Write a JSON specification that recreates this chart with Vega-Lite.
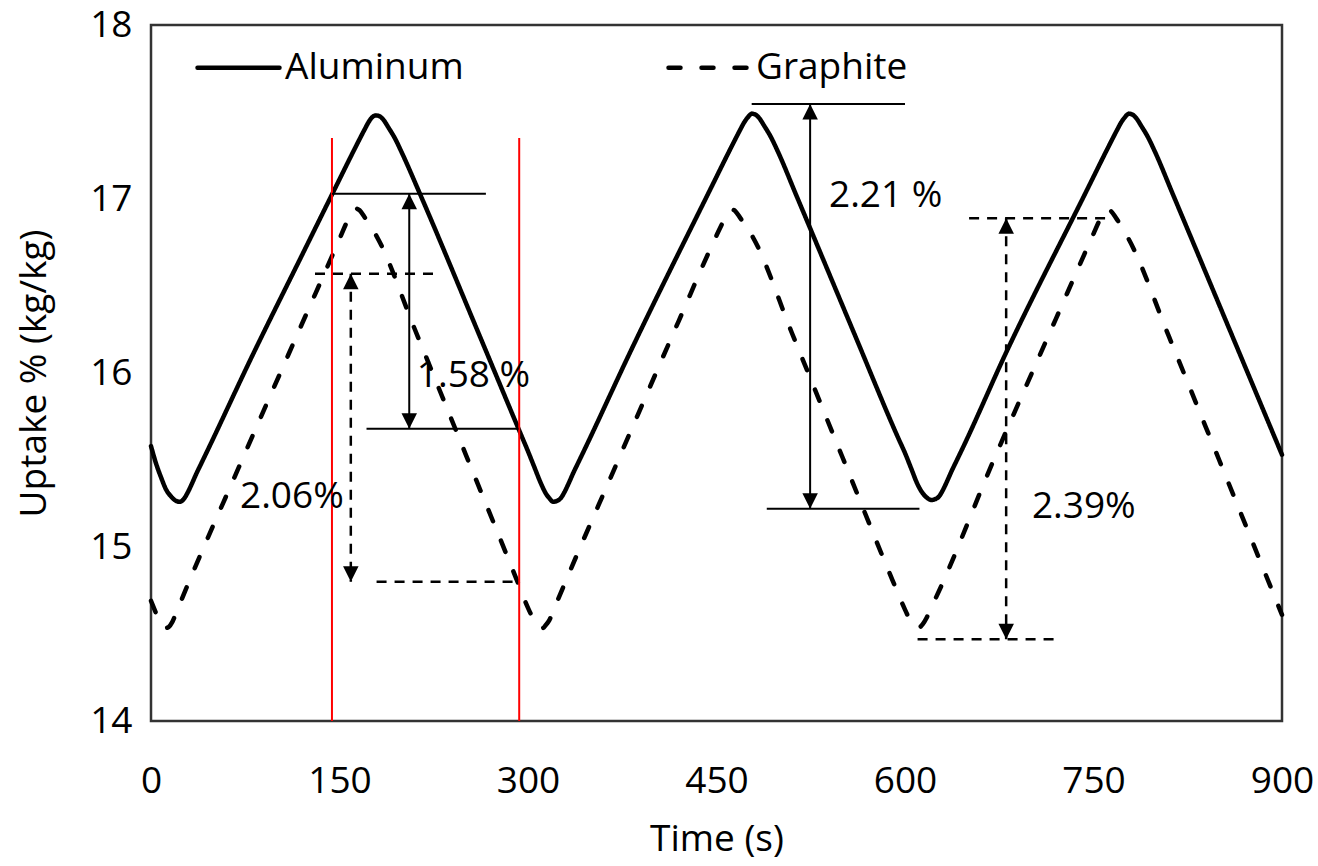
{
  "$schema": "https://vega.github.io/schema/vega-lite/v6.json",
  "width": 1131,
  "height": 696,
  "autosize": {"type": "none"},
  "padding": {"left": 151, "top": 25, "right": 36, "bottom": 145},
  "background": "white",
  "config": {
    "font": "Open Sans",
    "view": {"stroke": "#333333", "strokeWidth": 2.5},
    "axis": {"grid": false, "ticks": false, "domain": false, "labelColor": "black", "titleColor": "black", "labelFontSize": 37, "titleFontSize": 37, "titleFontWeight": "normal", "labelFont": "Open Sans", "titleFont": "Open Sans", "labelFlush": false, "labelOverlap": false}
  },
  "datasets": {
    "curves": [
      {"series": "Aluminum", "t": 0, "uptake": 15.58},
      {"series": "Aluminum", "t": 4, "uptake": 15.48},
      {"series": "Aluminum", "t": 8, "uptake": 15.4},
      {"series": "Aluminum", "t": 12, "uptake": 15.33},
      {"series": "Aluminum", "t": 16, "uptake": 15.29},
      {"series": "Aluminum", "t": 20, "uptake": 15.265},
      {"series": "Aluminum", "t": 23, "uptake": 15.26},
      {"series": "Aluminum", "t": 26, "uptake": 15.275},
      {"series": "Aluminum", "t": 29, "uptake": 15.31},
      {"series": "Aluminum", "t": 32, "uptake": 15.355},
      {"series": "Aluminum", "t": 36, "uptake": 15.42},
      {"series": "Aluminum", "t": 40, "uptake": 15.48},
      {"series": "Aluminum", "t": 45, "uptake": 15.555},
      {"series": "Aluminum", "t": 80, "uptake": 16.09},
      {"series": "Aluminum", "t": 120, "uptake": 16.675},
      {"series": "Aluminum", "t": 145, "uptake": 17.04},
      {"series": "Aluminum", "t": 165, "uptake": 17.33},
      {"series": "Aluminum", "t": 170, "uptake": 17.4},
      {"series": "Aluminum", "t": 173, "uptake": 17.44},
      {"series": "Aluminum", "t": 176, "uptake": 17.47},
      {"series": "Aluminum", "t": 179, "uptake": 17.48},
      {"series": "Aluminum", "t": 182, "uptake": 17.475},
      {"series": "Aluminum", "t": 185, "uptake": 17.455},
      {"series": "Aluminum", "t": 189, "uptake": 17.41},
      {"series": "Aluminum", "t": 194, "uptake": 17.35},
      {"series": "Aluminum", "t": 200, "uptake": 17.26},
      {"series": "Aluminum", "t": 214, "uptake": 17.03},
      {"series": "Aluminum", "t": 260, "uptake": 16.24},
      {"series": "Aluminum", "t": 293, "uptake": 15.67},
      {"series": "Aluminum", "t": 300, "uptake": 15.55},
      {"series": "Aluminum", "t": 305, "uptake": 15.46},
      {"series": "Aluminum", "t": 310, "uptake": 15.37},
      {"series": "Aluminum", "t": 314, "uptake": 15.31},
      {"series": "Aluminum", "t": 317, "uptake": 15.28},
      {"series": "Aluminum", "t": 320, "uptake": 15.26},
      {"series": "Aluminum", "t": 323, "uptake": 15.265},
      {"series": "Aluminum", "t": 326, "uptake": 15.28},
      {"series": "Aluminum", "t": 329, "uptake": 15.315},
      {"series": "Aluminum", "t": 332, "uptake": 15.36},
      {"series": "Aluminum", "t": 336, "uptake": 15.425},
      {"series": "Aluminum", "t": 340, "uptake": 15.485},
      {"series": "Aluminum", "t": 345, "uptake": 15.56},
      {"series": "Aluminum", "t": 380, "uptake": 16.1},
      {"series": "Aluminum", "t": 444, "uptake": 17.04},
      {"series": "Aluminum", "t": 464, "uptake": 17.33},
      {"series": "Aluminum", "t": 469, "uptake": 17.4},
      {"series": "Aluminum", "t": 472, "uptake": 17.44},
      {"series": "Aluminum", "t": 475, "uptake": 17.47},
      {"series": "Aluminum", "t": 478, "uptake": 17.49},
      {"series": "Aluminum", "t": 481, "uptake": 17.485},
      {"series": "Aluminum", "t": 484, "uptake": 17.465},
      {"series": "Aluminum", "t": 488, "uptake": 17.42},
      {"series": "Aluminum", "t": 493, "uptake": 17.36},
      {"series": "Aluminum", "t": 499, "uptake": 17.27},
      {"series": "Aluminum", "t": 513, "uptake": 17.03},
      {"series": "Aluminum", "t": 560, "uptake": 16.22},
      {"series": "Aluminum", "t": 595, "uptake": 15.62},
      {"series": "Aluminum", "t": 600, "uptake": 15.54},
      {"series": "Aluminum", "t": 605, "uptake": 15.45},
      {"series": "Aluminum", "t": 610, "uptake": 15.36},
      {"series": "Aluminum", "t": 614, "uptake": 15.31},
      {"series": "Aluminum", "t": 618, "uptake": 15.28},
      {"series": "Aluminum", "t": 621, "uptake": 15.27},
      {"series": "Aluminum", "t": 624, "uptake": 15.275},
      {"series": "Aluminum", "t": 627, "uptake": 15.29},
      {"series": "Aluminum", "t": 630, "uptake": 15.325},
      {"series": "Aluminum", "t": 633, "uptake": 15.37},
      {"series": "Aluminum", "t": 637, "uptake": 15.435},
      {"series": "Aluminum", "t": 641, "uptake": 15.495},
      {"series": "Aluminum", "t": 646, "uptake": 15.57},
      {"series": "Aluminum", "t": 680, "uptake": 16.11},
      {"series": "Aluminum", "t": 744, "uptake": 17.04},
      {"series": "Aluminum", "t": 764, "uptake": 17.33},
      {"series": "Aluminum", "t": 769, "uptake": 17.4},
      {"series": "Aluminum", "t": 772, "uptake": 17.44},
      {"series": "Aluminum", "t": 775, "uptake": 17.47},
      {"series": "Aluminum", "t": 778, "uptake": 17.49},
      {"series": "Aluminum", "t": 781, "uptake": 17.485},
      {"series": "Aluminum", "t": 784, "uptake": 17.465},
      {"series": "Aluminum", "t": 788, "uptake": 17.42},
      {"series": "Aluminum", "t": 793, "uptake": 17.36},
      {"series": "Aluminum", "t": 799, "uptake": 17.27},
      {"series": "Aluminum", "t": 813, "uptake": 17.03},
      {"series": "Aluminum", "t": 860, "uptake": 16.22},
      {"series": "Aluminum", "t": 900, "uptake": 15.53},
      {"series": "Graphite", "t": 0, "uptake": 14.69},
      {"series": "Graphite", "t": 4, "uptake": 14.62},
      {"series": "Graphite", "t": 7, "uptake": 14.57},
      {"series": "Graphite", "t": 10, "uptake": 14.54},
      {"series": "Graphite", "t": 12, "uptake": 14.535},
      {"series": "Graphite", "t": 14, "uptake": 14.54},
      {"series": "Graphite", "t": 17, "uptake": 14.57},
      {"series": "Graphite", "t": 20, "uptake": 14.62},
      {"series": "Graphite", "t": 24.5, "uptake": 14.7},
      {"series": "Graphite", "t": 70, "uptake": 15.46},
      {"series": "Graphite", "t": 120, "uptake": 16.28},
      {"series": "Graphite", "t": 150, "uptake": 16.77},
      {"series": "Graphite", "t": 156, "uptake": 16.87},
      {"series": "Graphite", "t": 160, "uptake": 16.925},
      {"series": "Graphite", "t": 163, "uptake": 16.945},
      {"series": "Graphite", "t": 166, "uptake": 16.935},
      {"series": "Graphite", "t": 170, "uptake": 16.895},
      {"series": "Graphite", "t": 180, "uptake": 16.78},
      {"series": "Graphite", "t": 210, "uptake": 16.25},
      {"series": "Graphite", "t": 250, "uptake": 15.54},
      {"series": "Graphite", "t": 290, "uptake": 14.83},
      {"series": "Graphite", "t": 300, "uptake": 14.65},
      {"series": "Graphite", "t": 304, "uptake": 14.59},
      {"series": "Graphite", "t": 307, "uptake": 14.555},
      {"series": "Graphite", "t": 310, "uptake": 14.535},
      {"series": "Graphite", "t": 312, "uptake": 14.535},
      {"series": "Graphite", "t": 314, "uptake": 14.55},
      {"series": "Graphite", "t": 317, "uptake": 14.58},
      {"series": "Graphite", "t": 320, "uptake": 14.63},
      {"series": "Graphite", "t": 324, "uptake": 14.7},
      {"series": "Graphite", "t": 370, "uptake": 15.47},
      {"series": "Graphite", "t": 420, "uptake": 16.3},
      {"series": "Graphite", "t": 450, "uptake": 16.79},
      {"series": "Graphite", "t": 456, "uptake": 16.88},
      {"series": "Graphite", "t": 459, "uptake": 16.92},
      {"series": "Graphite", "t": 462, "uptake": 16.94},
      {"series": "Graphite", "t": 465, "uptake": 16.93},
      {"series": "Graphite", "t": 469, "uptake": 16.89},
      {"series": "Graphite", "t": 479, "uptake": 16.78},
      {"series": "Graphite", "t": 510, "uptake": 16.23},
      {"series": "Graphite", "t": 550, "uptake": 15.52},
      {"series": "Graphite", "t": 590, "uptake": 14.81},
      {"series": "Graphite", "t": 600, "uptake": 14.64},
      {"series": "Graphite", "t": 604, "uptake": 14.58},
      {"series": "Graphite", "t": 607, "uptake": 14.55},
      {"series": "Graphite", "t": 610, "uptake": 14.535},
      {"series": "Graphite", "t": 612, "uptake": 14.54},
      {"series": "Graphite", "t": 614, "uptake": 14.555},
      {"series": "Graphite", "t": 617, "uptake": 14.59},
      {"series": "Graphite", "t": 620, "uptake": 14.64},
      {"series": "Graphite", "t": 624, "uptake": 14.7},
      {"series": "Graphite", "t": 670, "uptake": 15.49},
      {"series": "Graphite", "t": 720, "uptake": 16.31},
      {"series": "Graphite", "t": 750, "uptake": 16.8},
      {"series": "Graphite", "t": 755, "uptake": 16.88},
      {"series": "Graphite", "t": 758, "uptake": 16.92},
      {"series": "Graphite", "t": 761, "uptake": 16.94},
      {"series": "Graphite", "t": 764, "uptake": 16.93},
      {"series": "Graphite", "t": 768, "uptake": 16.89},
      {"series": "Graphite", "t": 778, "uptake": 16.77},
      {"series": "Graphite", "t": 810, "uptake": 16.21},
      {"series": "Graphite", "t": 850, "uptake": 15.5},
      {"series": "Graphite", "t": 900, "uptake": 14.61}
    ],
    "cycle_marks": [
      {"t": 144, "low": 14.0, "high": 17.35},
      {"t": 293, "low": 14.0, "high": 17.35}
    ],
    "levels": [
      {"t1": 144, "t2": 266.5, "y": 17.03, "style": "solid"},
      {"t1": 171.5, "t2": 292.5, "y": 15.68, "style": "solid"},
      {"t1": 478, "t2": 600, "y": 17.546, "style": "solid"},
      {"t1": 490, "t2": 611.5, "y": 15.22, "style": "solid"},
      {"t1": 130.5, "t2": 227, "y": 16.57, "style": "dashed"},
      {"t1": 179.5, "t2": 291, "y": 14.8, "style": "dashed"},
      {"t1": 651, "t2": 761, "y": 16.89, "style": "dashed"},
      {"t1": 610, "t2": 721, "y": 14.47, "style": "dashed"}
    ],
    "spans": [
      {"t": 205.5, "top": 17.03, "bottom": 15.68, "style": "solid"},
      {"t": 159, "top": 16.57, "bottom": 14.8, "style": "dashed"},
      {"t": 524.5, "top": 17.546, "bottom": 15.22, "style": "solid"},
      {"t": 680.5, "top": 16.89, "bottom": 14.47, "style": "dashed"}
    ],
    "notes": [
      {"t": 211.5, "y": 15.98, "label": "1.58 %"},
      {"t": 70.8, "y": 15.29, "label": "2.06%"},
      {"t": 539.5, "y": 17.02, "label": "2.21 %"},
      {"t": 701, "y": 15.23, "label": "2.39%"}
    ]
  },
  "layer": [
    {
      "data": {"name": "curves"},
      "mark": {"type": "line", "color": "black", "strokeWidth": 4.5, "strokeCap": "round", "strokeJoin": "round", "interpolate": "monotone"},
      "encoding": {
        "x": {"field": "t", "type": "quantitative", "title": "Time (s)", "scale": {"domain": [0, 900], "nice": false, "zero": false},
          "axis": {"values": [0, 150, 300, 450, 600, 750, 900], "format": "d", "labelPadding": 42, "titlePadding": 22}},
        "y": {"field": "uptake", "type": "quantitative", "title": "Uptake % (kg/kg)", "scale": {"domain": [14, 18], "nice": false, "zero": false},
          "axis": {"values": [14, 15, 16, 17, 18], "format": "d", "labelPadding": 19, "titlePadding": 36}},
        "strokeDash": {"field": "series", "type": "nominal",
          "scale": {"domain": ["Aluminum", "Graphite"], "range": [[1, 0], [12, 21]]},
          "legend": {"title": null, "orient": "none", "direction": "horizontal", "legendX": 44, "legendY": -1, "padding": 0,
            "symbolType": "stroke", "symbolSize": 6724, "symbolStrokeWidth": 4.5, "symbolStrokeColor": "black",
            "labelFont": "Open Sans", "labelFontSize": 37, "labelColor": "black", "labelOffset": 3, "labelLimit": 400,
            "columnPadding": 195,
            "encode": {"symbols": {"update": {"strokeCap": {"value": "round"}}}}}},
        "detail": {"field": "series"}
      }
    },
    {
      "data": {"name": "cycle_marks"},
      "mark": {"type": "rule", "color": "#ff0000", "strokeWidth": 2},
      "encoding": {
        "x": {"field": "t", "type": "quantitative", "title": "Time (s)", "scale": {"domain": [0, 900], "nice": false, "zero": false}},
        "y": {"field": "low", "type": "quantitative", "title": "Uptake % (kg/kg)", "scale": {"domain": [14, 18], "nice": false, "zero": false}},
        "y2": {"field": "high"}
      }
    },
    {
      "data": {"name": "levels"},
      "transform": [{"filter": "datum.style === 'solid'"}],
      "mark": {"type": "rule", "color": "black", "strokeWidth": 2},
      "encoding": {
        "x": {"field": "t1", "type": "quantitative", "title": "Time (s)", "scale": {"domain": [0, 900], "nice": false, "zero": false}},
        "x2": {"field": "t2"},
        "y": {"field": "y", "type": "quantitative", "title": "Uptake % (kg/kg)", "scale": {"domain": [14, 18], "nice": false, "zero": false}}
      }
    },
    {
      "data": {"name": "levels"},
      "transform": [{"filter": "datum.style === 'dashed'"}],
      "mark": {"type": "rule", "color": "black", "strokeWidth": 2.5, "strokeDash": [10, 8]},
      "encoding": {
        "x": {"field": "t1", "type": "quantitative", "title": "Time (s)", "scale": {"domain": [0, 900], "nice": false, "zero": false}},
        "x2": {"field": "t2"},
        "y": {"field": "y", "type": "quantitative", "title": "Uptake % (kg/kg)", "scale": {"domain": [14, 18], "nice": false, "zero": false}}
      }
    },
    {
      "data": {"name": "spans"},
      "transform": [{"filter": "datum.style === 'solid'"}],
      "mark": {"type": "rule", "color": "black", "strokeWidth": 2},
      "encoding": {
        "x": {"field": "t", "type": "quantitative", "title": "Time (s)", "scale": {"domain": [0, 900], "nice": false, "zero": false}},
        "y": {"field": "top", "type": "quantitative", "title": "Uptake % (kg/kg)", "scale": {"domain": [14, 18], "nice": false, "zero": false}},
        "y2": {"field": "bottom"}
      }
    },
    {
      "data": {"name": "spans"},
      "transform": [{"filter": "datum.style === 'dashed'"}],
      "mark": {"type": "rule", "color": "black", "strokeWidth": 2.5, "strokeDash": [10, 8]},
      "encoding": {
        "x": {"field": "t", "type": "quantitative", "title": "Time (s)", "scale": {"domain": [0, 900], "nice": false, "zero": false}},
        "y": {"field": "top", "type": "quantitative", "title": "Uptake % (kg/kg)", "scale": {"domain": [14, 18], "nice": false, "zero": false}},
        "y2": {"field": "bottom"}
      }
    },
    {
      "data": {"name": "spans"},
      "mark": {"type": "point", "filled": true, "color": "black", "opacity": 1, "strokeWidth": 0, "size": 961, "shape": "M0,0L-0.5,1L0.5,1Z"},
      "encoding": {
        "x": {"field": "t", "type": "quantitative", "title": "Time (s)", "scale": {"domain": [0, 900], "nice": false, "zero": false}},
        "y": {"field": "top", "type": "quantitative", "title": "Uptake % (kg/kg)", "scale": {"domain": [14, 18], "nice": false, "zero": false}}
      }
    },
    {
      "data": {"name": "spans"},
      "mark": {"type": "point", "filled": true, "color": "black", "opacity": 1, "strokeWidth": 0, "size": 961, "shape": "M0,0L-0.5,-1L0.5,-1Z"},
      "encoding": {
        "x": {"field": "t", "type": "quantitative", "title": "Time (s)", "scale": {"domain": [0, 900], "nice": false, "zero": false}},
        "y": {"field": "bottom", "type": "quantitative", "title": "Uptake % (kg/kg)", "scale": {"domain": [14, 18], "nice": false, "zero": false}}
      }
    },
    {
      "data": {"name": "notes"},
      "mark": {"type": "text", "align": "left", "baseline": "middle", "font": "Open Sans", "fontSize": 37, "color": "black"},
      "encoding": {
        "x": {"field": "t", "type": "quantitative", "title": "Time (s)", "scale": {"domain": [0, 900], "nice": false, "zero": false}},
        "y": {"field": "y", "type": "quantitative", "title": "Uptake % (kg/kg)", "scale": {"domain": [14, 18], "nice": false, "zero": false}},
        "text": {"field": "label"}
      }
    }
  ]
}
